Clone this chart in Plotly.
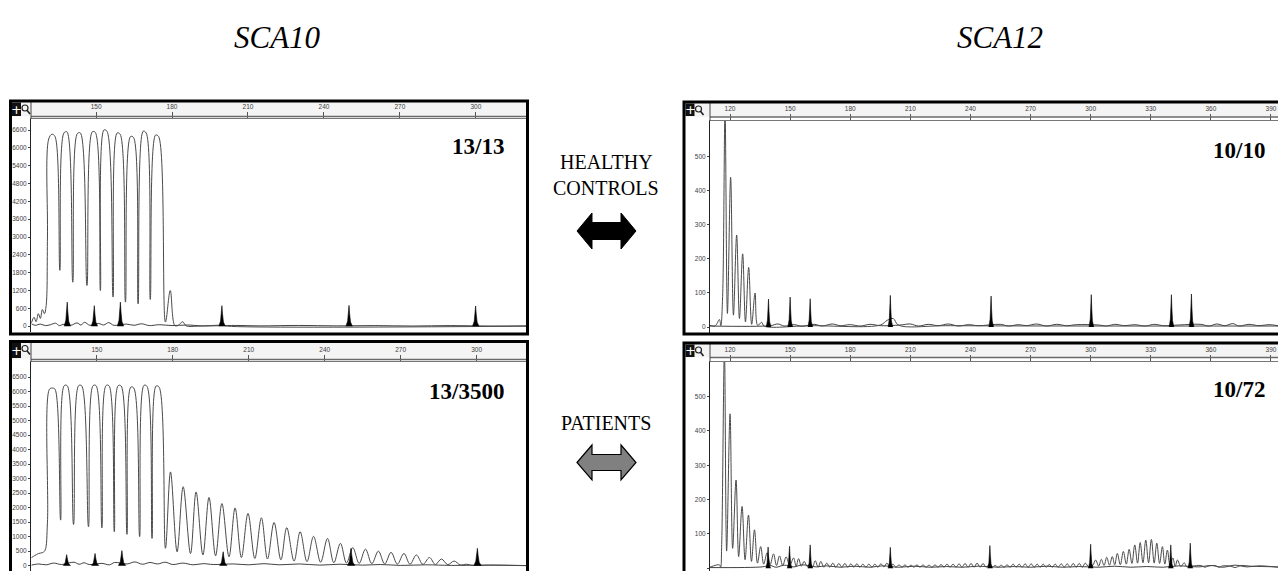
import plotly.graph_objects as go

# ---------------------------------------------------------------- data ---
ruler_sca10 = [150, 180, 210, 240, 270, 300]
ruler_sca12 = [120, 150, 180, 210, 240, 270, 300, 330, 360, 390]
rfu_ticks_sca10_ctrl = [0, 600, 1200, 1800, 2400, 3000, 3600, 4200, 4800, 5400, 6000, 6600]
rfu_ticks_sca10_pat = [0, 500, 1000, 1500, 2000, 2500, 3000, 3500, 4000, 4500, 5000, 5500, 6000, 6500]
rfu_ticks_sca12 = [0, 100, 200, 300, 400, 500]

# allele channel (open trace): (size in bp, RFU) vertices
sca10_ctrl_trace = [
    (124.5, 120), (125.5, 300), (126.3, 150), (127.2, 420), (128.0, 260), (128.8, 560),
    (129.6, 420), (130.3, 700), (130.8, 3000), (131.3, 6300), (132.6, 6460), (133.8, 6380),
    (135.7, 1880), (137.3, 6500), (138.5, 6540), (140.8, 1480), (142.6, 6480), (143.8, 6500),
    (146.4, 1370), (148.5, 6540), (149.7, 6520), (151.7, 1200), (153.1, 6600), (154.3, 6560),
    (156.7, 980), (158.3, 6500), (159.5, 6460), (161.6, 810), (163.6, 6380), (164.8, 6350),
    (166.6, 750), (168.6, 6560), (169.8, 6500), (171.4, 900), (173.5, 6430), (174.7, 6380),
    (177.4, 140), (179.3, 1200), (181.1, 20), (182.5, 30), (184.2, 150), (185.6, 10),
    (190.0, 0), (200.0, 30), (202.0, 0), (319.8, 0),
]
sca10_pat_trace = [
    (124.2, 280), (125.5, 350), (127.0, 420), (128.5, 450), (129.5, 520), (130.5, 1500),
    (131.3, 6080), (132.5, 6120), (133.5, 6080), (135.7, 1570), (137.1, 6200), (138.3, 6200),
    (140.8, 1420), (142.8, 6200), (144.0, 6200), (146.7, 1340), (148.5, 6200), (149.7, 6200),
    (152.0, 1300), (153.6, 6200), (154.8, 6200), (156.9, 1170), (158.4, 6200), (159.6, 6190),
    (161.9, 1080), (163.4, 6150), (164.6, 6120), (166.9, 1000), (168.6, 6210), (169.8, 6180),
    (171.8, 940), (173.4, 6190), (174.6, 6150), (177.1, 600), (179.1, 3230), (181.7, 480),
    (184.1, 2720), (187.0, 420), (189.2, 2540), (191.9, 370), (194.3, 2350), (196.9, 340),
    (199.4, 2140), (202.2, 310), (204.6, 1990), (207.1, 280), (209.7, 1800), (212.4, 250),
    (215.0, 1650), (217.4, 230), (220.0, 1490), (222.7, 200), (225.0, 1310), (227.9, 160),
    (230.3, 1170), (233.0, 140), (235.6, 1010), (238.4, 120), (241.1, 940), (243.6, 100),
    (246.2, 770), (248.6, 90), (251.1, 620), (253.6, 80), (256.1, 570), (258.6, 70),
    (261.2, 500), (263.7, 60), (266.2, 460), (268.7, 55), (271.3, 420), (273.7, 50),
    (276.2, 370), (278.8, 45), (281.4, 280), (283.7, 40), (286.1, 230), (288.6, 35),
    (291.1, 160), (293.5, 30), (296.0, 50), (298.5, 10), (305.0, 20), (319.5, 0),
]
sca12_ctrl_trace = [
    (110.0, 5), (112.5, 3), (114.7, 22), (115.4, 4), (116.3, 90), (117.5, 640), (118.7, 40),
    (120.3, 440), (121.7, 35), (123.3, 270), (124.7, 25), (126.3, 215), (127.7, 15),
    (129.3, 175), (130.8, 8), (132.5, 100), (133.8, 5), (135.8, 14), (137.0, 3), (160.0, 4),
    (195.0, 6), (198.5, 20), (201.5, 25), (204.0, 6), (230.0, 4), (393.5, 3),
]
sca12_pat_trace = [
    (110.0, 3), (114.7, 10), (115.3, 3), (115.8, 60), (117.2, 640), (118.3, 50), (120.0, 450),
    (121.3, 58), (123.0, 257), (124.3, 34), (126.0, 180), (127.5, 25), (129.2, 155), (130.7, 20),
    (132.2, 112), (133.7, 15), (135.3, 63), (136.8, 12), (138.5, 45), (140.0, 10), (141.7, 42),
    (143.2, 8), (144.7, 36), (146.3, 8), (148.0, 33), (149.8, 8), (151.7, 30), (153.0, 6),
    (154.2, 28), (155.6, 6), (157.0, 20), (158.5, 5), (160.0, 10), (161.2, 4), (162.5, 22),
    (164.0, 3), (165.3, 20), (166.8, 3), (168.3, 15), (169.8, 3), (171.3, 15), (172.8, 3),
    (174.3, 14), (175.8, 3), (177.3, 14), (178.8, 3), (180.3, 13), (181.8, 3), (183.3, 13),
    (184.8, 3), (186.3, 12), (187.8, 3), (189.3, 12), (190.8, 3), (192.3, 12), (193.8, 3),
    (195.3, 13), (196.8, 4), (198.3, 15), (199.8, 4), (201.3, 12), (202.8, 3), (204.3, 10),
    (205.8, 3), (207.3, 10), (208.8, 3), (210.3, 9), (211.8, 3), (213.3, 10), (214.8, 3),
    (216.3, 10), (217.8, 3), (219.3, 9), (220.8, 3), (222.3, 10), (223.8, 3), (225.3, 11),
    (226.8, 3), (228.3, 12), (229.8, 3), (231.3, 12), (232.8, 3), (234.3, 13), (235.8, 3),
    (237.3, 14), (238.8, 3), (240.3, 14), (241.8, 3), (243.3, 15), (244.8, 3), (246.3, 14),
    (247.8, 3), (249.3, 10), (250.8, 3), (252.3, 8), (253.8, 3), (255.3, 9), (256.8, 3),
    (258.3, 10), (259.8, 3), (261.3, 12), (262.8, 3), (264.3, 12), (265.8, 3), (267.3, 13),
    (268.8, 3), (270.3, 13), (271.8, 3), (273.3, 12), (274.8, 3), (276.3, 12), (277.8, 3),
    (279.3, 11), (280.8, 3), (282.3, 12), (283.8, 3), (285.3, 13), (286.8, 3), (288.3, 13),
    (289.8, 3), (291.3, 14), (292.8, 3), (294.3, 14), (295.8, 3), (297.3, 15), (299.0, 4),
    (301.0, 8), (302.5, 24), (304.0, 6), (305.3, 26), (306.7, 8), (308.0, 32), (309.4, 9),
    (310.8, 34), (312.0, 10), (313.3, 43), (314.8, 10), (316.3, 49), (317.8, 12), (319.2, 55),
    (320.6, 14), (322.0, 68), (323.4, 15), (324.7, 75), (326.1, 16), (327.5, 82), (328.9, 16),
    (330.3, 84), (331.7, 15), (333.0, 73), (334.4, 14), (335.8, 63), (337.0, 12), (338.3, 53),
    (339.6, 8), (341.0, 30), (342.2, 6), (343.3, 24), (345.0, 5), (346.7, 16), (348.0, 4),
    (350.5, 6), (355.0, 8), (357.0, 3), (358.5, 6), (362.0, 8), (364.0, 3), (366.0, 7),
    (370.0, 6), (372.0, 2), (375.0, 8), (380.0, 6), (386.0, 5), (393.5, 4),
]

# internal size standard (filled black peaks): (size in bp, RFU)
sca10_ctrl_ladder = [(138.6, 810), (149.3, 690), (159.6, 810), (199.7, 690), (249.9, 700), (299.9, 680)]
sca10_pat_ladder = [(138.1, 380), (149.3, 420), (159.9, 520), (199.9, 480), (250.4, 600), (300.3, 600)]
sca12_ctrl_ladder = [(139.2, 82), (150.0, 88), (160.0, 83), (200.0, 93), (250.3, 91),
                     (300.3, 95), (340.3, 95), (350.3, 97)]
sca12_pat_ladder = [(139.0, 62), (149.7, 64), (160.0, 68), (200.0, 61), (249.7, 66),
                    (300.0, 70), (340.0, 68), (349.7, 73)]

# size standard channel baseline
sca10_ctrl_base = [
    (124.5, 80), (126, 30), (128, 70), (130, 20), (132, 50), (134, 100), (135.5, 20), (137, 60),
    (140, 30), (142.5, 110), (144, 40), (145.5, 130), (147.5, 30), (151, 90), (153, 40),
    (155, 120), (157, 30), (162, 70), (165, 30), (168, 80), (171, 20), (175, 50), (180, 20),
    (186, 40), (192, 10), (205, 25), (215, 10), (230, 25), (245, 10), (260, 20), (275, 5),
    (290, 20), (305, 5), (319.8, 10),
]
sca10_pat_base = [
    (124.2, 20), (127, 60), (130, 30), (133, 90), (136, 40), (141, 120), (143, 50), (145, 100),
    (147, 40), (152, 80), (155, 30), (157, 110), (162, 60), (165, 130), (168, 50), (171, 110),
    (174, 60), (177, 120), (180, 40), (184, 90), (188, 30), (192, 70), (196, 40), (204, 60),
    (210, 30), (216, 70), (222, 30), (230, 60), (238, 20), (246, 50), (255, 20), (262, 40),
    (270, 10), (280, 30), (290, 10), (305, 20), (319.5, 5),
]
sca12_ctrl_base = [
    (110, 3), (140, 4), (144, 9), (147, 3), (152, 7), (156, 2), (162, 8), (166, 3), (171, 9),
    (175, 4), (180, 7), (185, 3), (190, 8), (195, 4), (205, 6), (210, 9), (214, 3), (219, 8),
    (224, 4), (229, 9), (234, 3), (239, 7), (244, 4), (255, 8), (259, 3), (264, 7), (268, 4),
    (273, 9), (278, 3), (283, 8), (288, 4), (293, 7), (304, 6), (308, 3), (312, 8), (317, 4),
    (322, 7), (327, 3), (332, 8), (336, 4), (344, 6), (355, 8), (359, 3), (363, 9), (367, 4),
    (371, 10), (374, 3), (379, 8), (384, 4), (389, 7), (393.5, 4),
]
sca12_pat_base = [
    (110, 2), (136, 4), (140, 8), (143, 3), (147, 9), (152, 4), (156, 10), (163, 4), (168, 7),
    (175, 3), (182, 6), (190, 3), (196, 7), (204, 3), (212, 6), (220, 3), (228, 5), (236, 3),
    (244, 6), (254, 3), (262, 5), (270, 3), (278, 6), (286, 3), (294, 5), (304, 3), (312, 6),
    (320, 3), (328, 5), (336, 3), (344, 7), (354, 4), (360, 8), (366, 3), (372, 9), (378, 4),
    (384, 7), (393.5, 3),
]

# ------------------------------------------------------------- layout ---
W, H = 1278, 571


def px(x):
    return x / W


def py(y):
    return 1 - y / H


TICK_FONT = dict(family="Liberation Sans, Arial, sans-serif", size=6.5, color="#404040")
SERIF = "Liberation Serif, Times New Roman, serif"

panels = [
    dict(ax="", trace=sca10_ctrl_trace, ladder=sca10_ctrl_ladder, base=sca10_ctrl_base, hw=1.2,
         plot=(31, 526, 119, 331.5), xr=(124.3, 319.8), yr=(-179, 6971),
         yt=rfu_ticks_sca10_ctrl, xt=ruler_sca10, frame=(10.5, 101, 527.5, 334),
         ruler_y=116.5, icon=(12, 102.5, 116), label="13/13", label_xy=(506, 147)),
    dict(ax="2", trace=sca10_pat_trace, ladder=sca10_pat_ladder, base=sca10_pat_base, hw=1.4,
         plot=(31, 526, 362, 571), xr=(124.0, 319.5), yr=(-183, 7017),
         yt=rfu_ticks_sca10_pat, xt=ruler_sca10, frame=(10.5, 341.5, 527.5, 580),
         ruler_y=359.5, icon=(12, 343, 358), label="13/3500", label_xy=(506, 392)),
    dict(ax="3", trace=sca12_ctrl_trace, ladder=sca12_ctrl_ladder, base=sca12_ctrl_base, hw=1.1,
         plot=(710, 1278, 121, 332.5), xr=(110.0, 393.5), yr=(-16, 605),
         yt=rfu_ticks_sca12, xt=ruler_sca12, frame=(684, 102, 1300, 334),
         ruler_y=117, icon=(685.5, 103.5, 116), label="10/10", label_xy=(1267, 150)),
    dict(ax="4", trace=sca12_pat_trace, ladder=sca12_pat_ladder, base=sca12_pat_base, hw=1.1,
         plot=(710, 1278, 362, 571), xr=(110.0, 393.5), yr=(-8, 601),
         yt=rfu_ticks_sca12, xt=ruler_sca12, frame=(684, 343, 1300, 580),
         ruler_y=357.5, icon=(685.5, 344.5, 357), label="10/72", label_xy=(1267, 389)),
]

fig = go.Figure()
shapes = []
annotations = []
layout = {}


def ladder_polygons(peaks, hw):
    xs, ys = [], []
    for x0, h in peaks:
        xs += [x0 - hw, x0 - 0.45 * hw, x0 - 0.15 * hw, x0, x0 + 0.2 * hw, x0 + 0.5 * hw, x0 + 1.1 * hw, None]
        ys += [0, 0.25 * h, 0.75 * h, h, 0.6 * h, 0.2 * h, 0, None]
    return xs, ys


for p in panels:
    xa, ya = "x" + p["ax"], "y" + p["ax"]
    l, r, t, b = p["plot"]

    # size-standard baseline
    bx, by = zip(*p["base"])
    fig.add_trace(go.Scatter(x=bx, y=by, mode="lines", xaxis=xa, yaxis=ya,
                             line=dict(color="#111", width=0.8, shape="spline"),
                             hoverinfo="skip", showlegend=False))
    # allele trace
    tx, ty = zip(*p["trace"])
    fig.add_trace(go.Scatter(x=tx, y=ty, mode="lines", xaxis=xa, yaxis=ya,
                             line=dict(color="#4a4a4a", width=1, shape="spline", smoothing=1.0),
                             hoverinfo="skip", showlegend=False))
    # size-standard peaks
    lx, ly = ladder_polygons(p["ladder"], p["hw"])
    fig.add_trace(go.Scatter(x=lx, y=ly, mode="lines", xaxis=xa, yaxis=ya, fill="toself",
                             fillcolor="#000", line=dict(color="#000", width=0.6),
                             hoverinfo="skip", showlegend=False))

    layout["xaxis" + p["ax"]] = dict(
        domain=[px(l), px(r)], range=list(p["xr"]), anchor=ya, side="top",
        tickvals=p["xt"], ticktext=[str(v) for v in p["xt"]], ticks="outside", ticklen=6,
        tickcolor="#555", tickwidth=1, tickfont=TICK_FONT, showline=True, linecolor="#777",
        linewidth=1, showgrid=False, zeroline=False, ticklabeloverflow="allow")
    layout["yaxis" + p["ax"]] = dict(
        domain=[py(b), py(t)], range=list(p["yr"]), anchor=xa,
        tickvals=p["yt"], ticktext=[str(v) for v in p["yt"]], ticks="outside", ticklen=2,
        tickcolor="#444", tickwidth=1, tickfont=TICK_FONT, showline=True, linecolor="#222",
        linewidth=1, showgrid=False, zeroline=False)

    fx0, fy0, fx1, fy1 = p["frame"]
    ix, iy0, iy1 = p["icon"]
    # ruler strip
    shapes.append(dict(type="rect", xref="paper", yref="paper", layer="below",
                       x0=px(ix), x1=px(fx1), y0=py(p["ruler_y"]), y1=py(fy0),
                       fillcolor="#f4f4f4", line=dict(width=0)))
    shapes.append(dict(type="line", xref="paper", yref="paper",
                       x0=px(l), x1=px(min(fx1, W)), y0=py(p["ruler_y"]), y1=py(p["ruler_y"]),
                       line=dict(color="#6a6a6a", width=1.5)))
    shapes.append(dict(type="line", xref="paper", yref="paper",
                       x0=px(l), x1=px(l), y0=py(fy0), y1=py(t),
                       line=dict(color="#444", width=1)))
    # toolbar icon: "+" box and magnifier
    shapes.append(dict(type="rect", xref="paper", yref="paper",
                       x0=px(ix), x1=px(ix + 9), y0=py(iy1), y1=py(iy0),
                       fillcolor="#111", line=dict(width=0)))
    annotations.append(dict(x=px(ix + 4.5), y=py((iy0 + iy1) / 2), xref="paper", yref="paper",
                            text="+", showarrow=False, xanchor="center", yanchor="middle",
                            font=dict(family="DejaVu Sans", size=13, color="white")))
    cx, cy = ix + 13, iy0 + 5.5
    shapes.append(dict(type="circle", xref="paper", yref="paper",
                       x0=px(cx - 3), x1=px(cx + 3), y0=py(cy + 3), y1=py(cy - 3),
                       line=dict(color="#222", width=1.2)))
    shapes.append(dict(type="line", xref="paper", yref="paper",
                       x0=px(cx + 2), x1=px(cx + 5), y0=py(cy + 2.2), y1=py(cy + 6),
                       line=dict(color="#222", width=1.6)))
    # outer frame
    shapes.append(dict(type="rect", xref="paper", yref="paper",
                       x0=px(fx0), x1=px(fx1), y0=py(fy1), y1=py(fy0),
                       line=dict(color="#000", width=3), fillcolor="rgba(0,0,0,0)"))
    # sample ratio label
    lxp, lyp = p["label_xy"]
    annotations.append(dict(x=px(lxp), y=py(lyp), xref="paper", yref="paper", text=p["label"],
                            showarrow=False, xanchor="right", yanchor="middle",
                            font=dict(family=SERIF, size=23, color="#000", weight="bold")))

# gene titles
for txt, cxp in (("SCA10", 277), ("SCA12", 1000)):
    annotations.append(dict(x=px(cxp), y=py(38), xref="paper", yref="paper",
                            text="<i>%s</i>" % txt, showarrow=False,
                            xanchor="center", yanchor="middle",
                            font=dict(family=SERIF, size=31, color="#000")))

# group captions
for txt, ycap in (("HEALTHY", 162), ("CONTROLS", 188), ("PATIENTS", 423)):
    annotations.append(dict(x=px(606), y=py(ycap), xref="paper", yref="paper", text=txt,
                            showarrow=False, xanchor="center", yanchor="middle",
                            font=dict(family=SERIF, size=20, color="#000")))


def double_arrow(xl, xr, yc, head, half_h, half_s):
    pts = [(xl, yc), (xl + head, yc - half_h), (xl + head, yc - half_s), (xr - head, yc - half_s),
           (xr - head, yc - half_h), (xr, yc), (xr - head, yc + half_h), (xr - head, yc + half_s),
           (xl + head, yc + half_s), (xl + head, yc + half_h)]
    return "M " + " L ".join("%.5f,%.5f" % (px(x), py(y)) for x, y in pts) + " Z"


shapes.append(dict(type="path", xref="paper", yref="paper",
                   path=double_arrow(577, 636, 231, 15, 18, 8.5),
                   fillcolor="#000", line=dict(color="#000", width=1)))
shapes.append(dict(type="path", xref="paper", yref="paper",
                   path=double_arrow(577, 636, 462.5, 15, 17.5, 8),
                   fillcolor="#808080", line=dict(color="#000", width=1.2)))

fig.update_layout(
    width=W, height=H, margin=dict(l=0, r=0, t=0, b=0),
    paper_bgcolor="white", plot_bgcolor="white",
    shapes=shapes, annotations=annotations, showlegend=False, **layout)

fig.write_html("out.html")
